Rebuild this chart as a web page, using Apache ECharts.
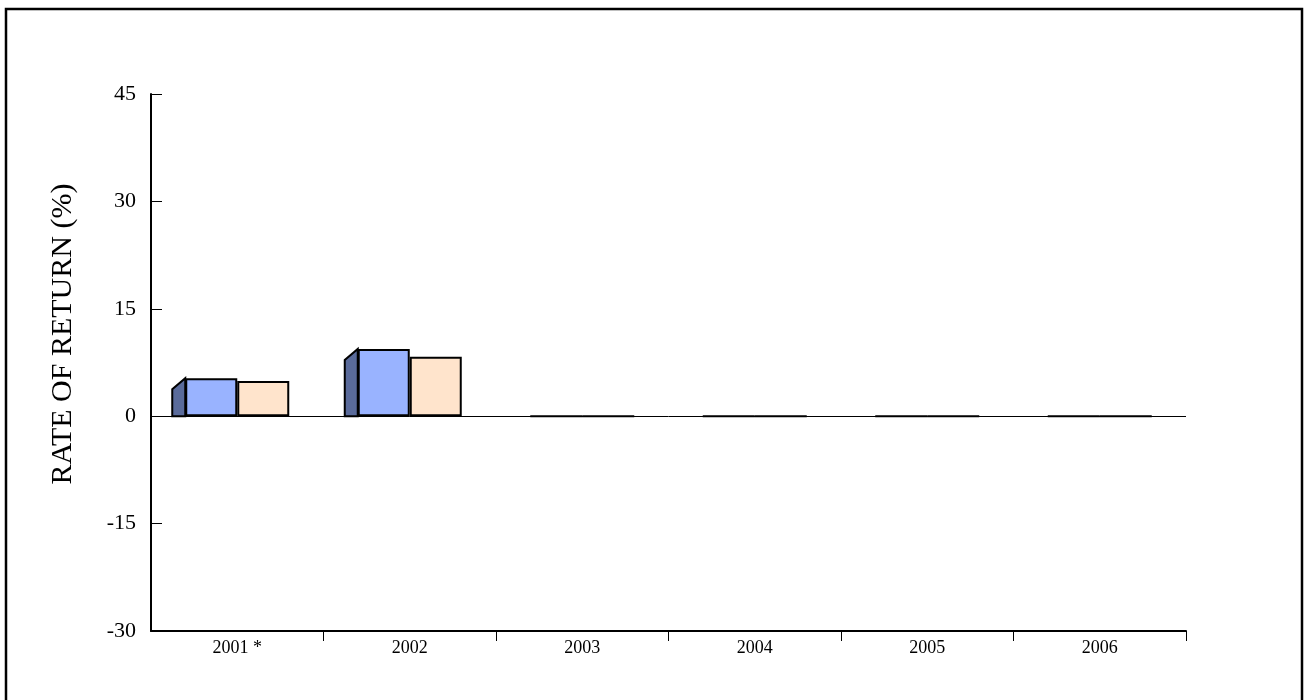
<!DOCTYPE html>
<html>
<head>
<meta charset="utf-8">
<script src="https://cdn.jsdelivr.net/npm/echarts@6/dist/echarts.min.js"></script>
<style>
html,body{margin:0;padding:0;background:#fff;}
#chart{width:1305px;height:700px;}
</style>
</head>
<body>
<div id="chart"></div>
<script>
var categories = ['2001 *', '2002', '2003', '2004', '2005', '2006'];
var fundReturns = [5.3, 9.4, 0, 0, 0, 0];
var benchmarkReturns = [4.9, 8.3, 0, 0, 0, 0];
var yTicks = { min: -30, max: 45, interval: 15 };

var FONT = '"Liberation Serif", "Times New Roman", serif';
var BAR_W = 52;
var SIDE_W = 13;
var SIDE_DROP = 11;

var chart = echarts.init(document.getElementById('chart'), null, { renderer: 'canvas' });

var option = {
  animation: false,
  backgroundColor: '#ffffff',
  grid: { left: 151, right: 119, top: 94, bottom: 69, containLabel: false },
  graphic: [
    {
      type: 'rect', silent: true, z: 100,
      shape: { x: 6, y: 9, width: 1296, height: 760 },
      style: { fill: 'none', stroke: '#000', lineWidth: 2.5 }
    },
    {
      type: 'text', silent: true,
      x: 63, y: 334, rotation: Math.PI / 2,
      style: {
        text: 'RATE OF RETURN (%)',
        font: '30px ' + FONT,
        fill: '#000',
        textAlign: 'center',
        textVerticalAlign: 'middle'
      }
    }
  ],
  xAxis: {
    type: 'category',
    data: categories,
    boundaryGap: true,
    axisLine: { onZero: false, lineStyle: { color: '#000', width: 2 } },
    axisTick: { show: true, length: 10, lineStyle: { color: '#000', width: 1 },
      interval: function (i) { return i !== 0; } },
    axisLabel: { color: '#000', fontFamily: FONT, fontSize: 18, margin: 8 },
    splitLine: { show: false }
  },
  yAxis: {
    type: 'value',
    min: yTicks.min, max: yTicks.max, interval: yTicks.interval,
    axisLine: { show: true, lineStyle: { color: '#000', width: 2 } },
    axisTick: { show: true, inside: true, length: 11, lineStyle: { color: '#000', width: 1 } },
    axisLabel: { color: '#000', fontFamily: FONT, fontSize: 22, margin: 15, padding: [7, 0, 0, 0] },
    splitLine: { show: false }
  },
  series: [
    {
      type: 'custom',
      name: 'side',
      z: 3,
      data: fundReturns.map(function (v, i) { return [i, v]; }),
      renderItem: function (params, api) {
        var v = api.value(1);
        if (!v) return null;
        var top = api.coord([api.value(0), v]);
        var base = api.coord([api.value(0), 0]);
        var left = top[0] - BAR_W;
        return {
          type: 'polygon',
          shape: { points: [
            [left - SIDE_W, base[1]],
            [left - SIDE_W, top[1] + SIDE_DROP],
            [left, top[1]],
            [left, base[1]]
          ] },
          style: { fill: '#5a6b9b', stroke: '#000', lineWidth: 2 }
        };
      }
    },
    {
      type: 'bar',
      name: 'Fund',
      z: 4,
      data: fundReturns,
      barWidth: BAR_W,
      barGap: '0%',
      itemStyle: { color: '#99b3ff', borderColor: '#000', borderWidth: 2 }
    },
    {
      type: 'bar',
      name: 'Benchmark',
      z: 4,
      data: benchmarkReturns,
      barWidth: BAR_W,
      barGap: '0%',
      itemStyle: { color: '#ffe4cc', borderColor: '#000', borderWidth: 2 },
      markLine: {
        silent: true, symbol: 'none', label: { show: false },
        lineStyle: { color: '#000', width: 1, type: 'solid' },
        data: [{ yAxis: 0 }]
      }
    }
  ]
};
chart.setOption(option);
</script>
</body>
</html>
